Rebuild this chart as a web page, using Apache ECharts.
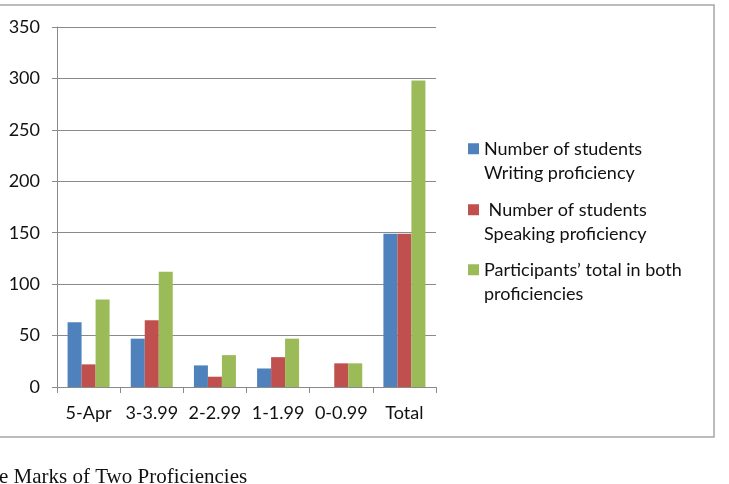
<!DOCTYPE html>
<html>
<head>
<meta charset="utf-8">
<script src="https://cdn.jsdelivr.net/npm/echarts@6/dist/echarts.min.js"></script>
<style>
    html, body { margin: 0; padding: 0; background: #fff; }
    #chart { width: 729px; height: 484px; }
</style>
</head>
<body>
<div id="chart"></div>
<script>
// 分类
var categories = ['5-Apr', '3-3.99', '2-2.99', '1-1.99', '0-0.99', 'Total'];
// 系列名称
var seriesNames = [
    'Number of students\nWriting proficiency',
    ' Number of students\nSpeaking proficiency',
    'Participants\u2019 total in both\nproficiencies'
];
// 系列数据
var writing = [63, 47, 21, 18, 0, 149];
var speaking = [22, 65, 10, 29, 23, 149];
var both = [85, 112, 31, 47, 23, 298];
var colors = ['#4F81BD', '#C0504D', '#9BBB59'];

var font = 'Lato';
var gray = '#8a8a8a';
var textColor = '#111';

var myChart = echarts.init(document.getElementById('chart'));

// 图例：每项一个；前面加空行，使方块与首行文字对齐
var legendTops = [112, 173, 233];
var legends = seriesNames.map(function (name, i) {
    return {
        data: [name],
        orient: 'vertical',
        left: 468,
        top: legendTops[i],
        padding: 0,
        itemWidth: 11,
        itemHeight: 11,
        icon: 'rect',
        selectedMode: false,
        formatter: function (n) {
            return '\n' + n;
        },
        textStyle: {
            fontFamily: font,
            fontSize: 18,
            color: textColor,
            lineHeight: 24.5
        }
    };
});

var option = {
    backgroundColor: '#fff',
    animation: false,
    color: colors,
    legend: legends,
    grid: {
        left: 57,
        right: 293,
        top: 27,
        bottom: 97
    },
    xAxis: {
        type: 'category',
        data: categories,
        axisLine: { lineStyle: { color: gray, width: 1 } },
        axisTick: { show: true, length: 6, lineStyle: { color: gray } },
        axisLabel: {
            interval: 0,
            fontFamily: font,
            fontSize: 18,
            color: textColor,
            margin: 17
        }
    },
    yAxis: {
        type: 'value',
        min: 0,
        max: 350,
        interval: 50,
        axisLine: { show: true, lineStyle: { color: gray, width: 1 } },
        axisTick: { show: true, length: 5, lineStyle: { color: gray } },
        splitLine: { lineStyle: { color: gray, width: 1 } },
        axisLabel: {
            fontFamily: font,
            fontSize: 18,
            color: textColor,
            margin: 17
        }
    },
    series: [
        { name: seriesNames[0], type: 'bar', data: writing, barGap: 0, barCategoryGap: '33.5%' },
        { name: seriesNames[1], type: 'bar', data: speaking, barGap: 0, barCategoryGap: '33.5%' },
        { name: seriesNames[2], type: 'bar', data: both, barGap: 0, barCategoryGap: '33.5%' }
    ],
    graphic: [
        // 外框
        {
            type: 'rect',
            shape: { x: -2, y: 5, width: 716, height: 432 },
            style: { fill: 'none', stroke: '#a6a6a6', lineWidth: 1.5 },
            z: -1
        },
        // 图题（左侧被裁切）
        {
            type: 'text',
            left: -1,
            top: 467,
            style: {
                text: 'e Marks of Two Proficiencies',
                fontFamily: 'Liberation Serif',
                fontSize: 21,
                fill: textColor
            }
        }
    ]
};
myChart.setOption(option);
</script>
</body>
</html>
